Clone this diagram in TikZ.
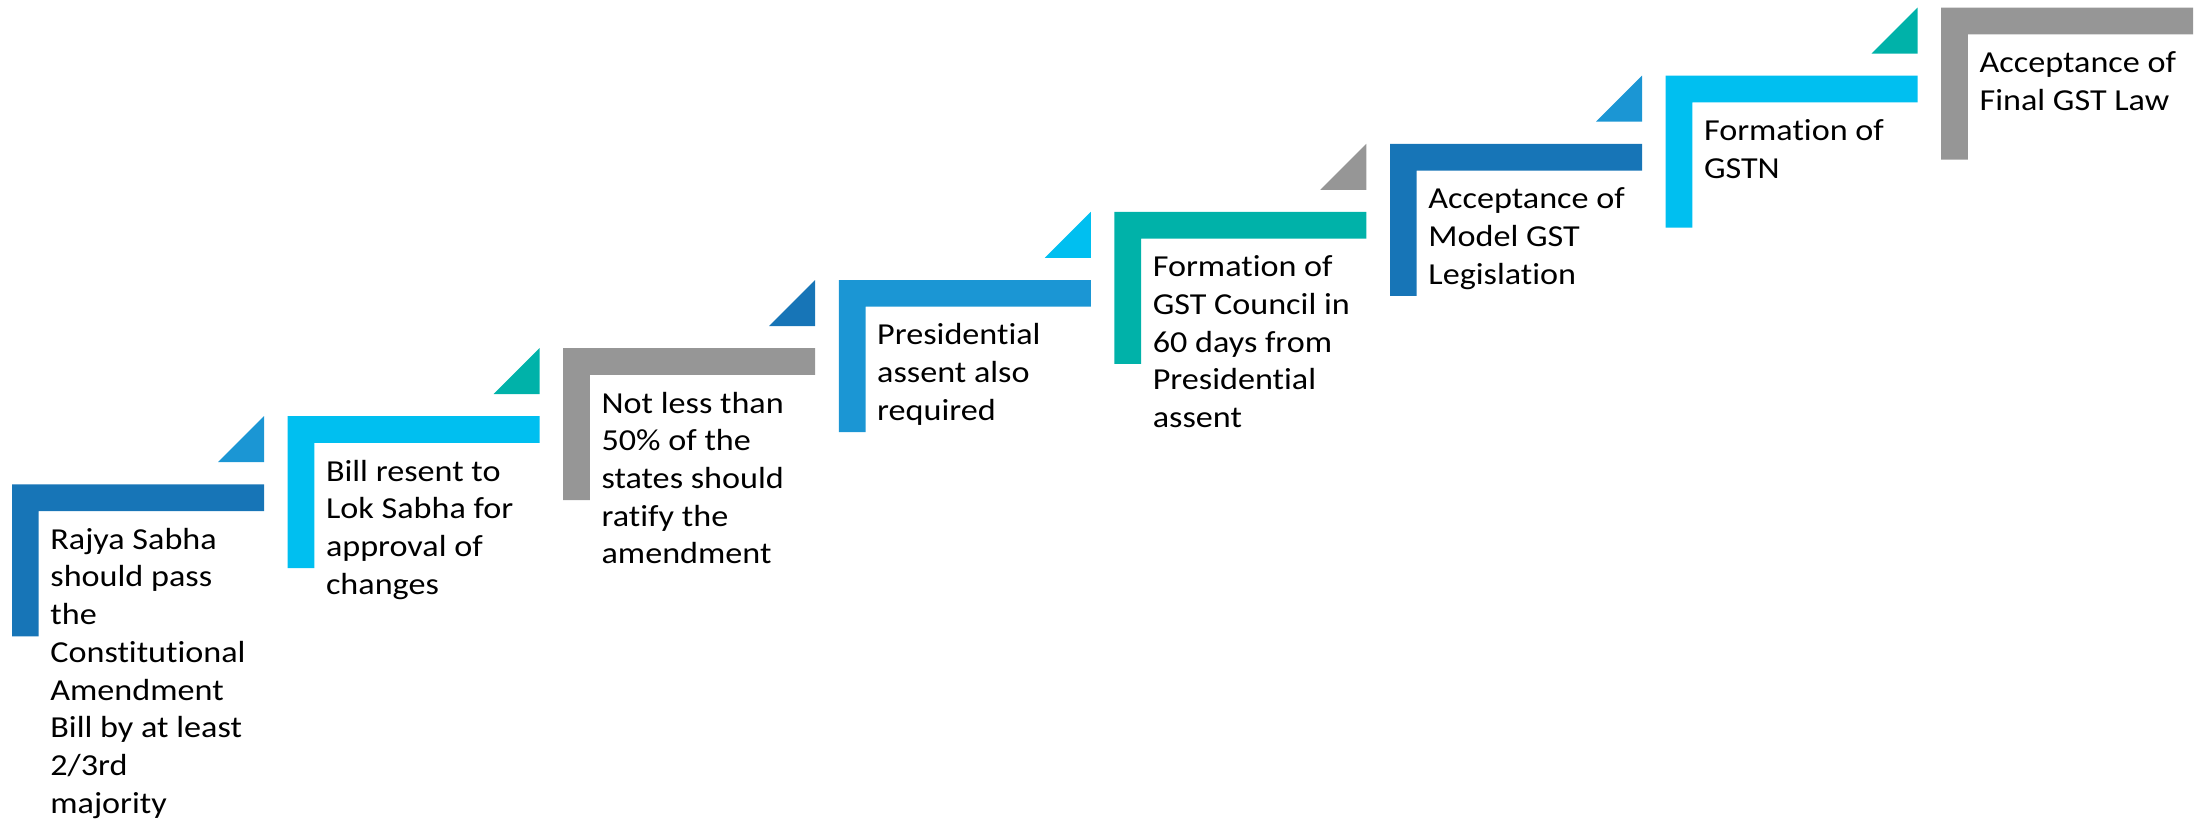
\documentclass[tikz,border=0pt]{standalone}
\usepackage{fontspec}
\setmainfont{Carlito}[FakeStretch=1.12,Ligatures=NoCommon]
\usepackage{tikz}
\usetikzlibrary{positioning,calc}
\usepackage{xcolor}
\definecolor{gstdark}{RGB}{23,117,183}
\definecolor{gstblue}{RGB}{27,150,212}
\definecolor{gstcyan}{RGB}{0,191,240}
\definecolor{gstteal}{RGB}{0,178,169}
\definecolor{gstgrey}{RGB}{150,150,150}

\begin{document}
\begin{tikzpicture}[x=0.5pt,y=-0.5pt,
  steptext/.style={anchor=north west,inner sep=0pt,align=left,
    font=\fontsize{15.25}{18.85}\selectfont}]
  \useasboundingbox (0,0) rectangle (2198,825);
  % brackets and texts
  \foreach \i/\col/\txt in {
    1/gstdark/{Rajya Sabha\\should pass\\the\\Constitutional\\Amendment\\Bill by at least\\2/3rd\\majority},
    2/gstcyan/{Bill resent to\\Lok Sabha for\\approval of\\changes},
    3/gstgrey/{Not less than\\50\% of the\\states should\\ratify the\\amendment},
    4/gstblue/{Presidential\\assent also\\required},
    5/gstteal/{Formation of\\GST Council in\\60 days from\\Presidential\\assent},
    6/gstdark/{Acceptance of\\Model GST\\Legislation},
    7/gstcyan/{Formation of\\GSTN},
    8/gstgrey/{Acceptance of\\Final GST Law}}
  {
    \pgfmathsetmacro\bx{12+275.6*(\i-1)}
    \pgfmathsetmacro\by{484.3-68.1*(\i-1)}
    \fill[\col] (\bx,\by) -- ++(252,0) -- ++(0,26.7) -- ++(-225.3,0)
      -- ++(0,125.3) -- ++(-26.7,0) -- cycle;
    \node[steptext] (step\i) at (\bx+38,\by+38.1) {\strut\txt};
  }
  % small triangles
  \foreach \i/\col in {1/gstblue,2/gstteal,3/gstdark,4/gstcyan,
    5/gstgrey,6/gstblue,7/gstteal}
  {
    \pgfmathsetmacro\bx{12+275.6*(\i-1)}
    \pgfmathsetmacro\by{484.3-68.1*(\i-1)}
    \fill[\col] (\bx+252,\by-68.1) -- (\bx+252,\by-22.1)
      -- (\bx+206,\by-22.1) -- cycle;
  }
\end{tikzpicture}
\end{document}
